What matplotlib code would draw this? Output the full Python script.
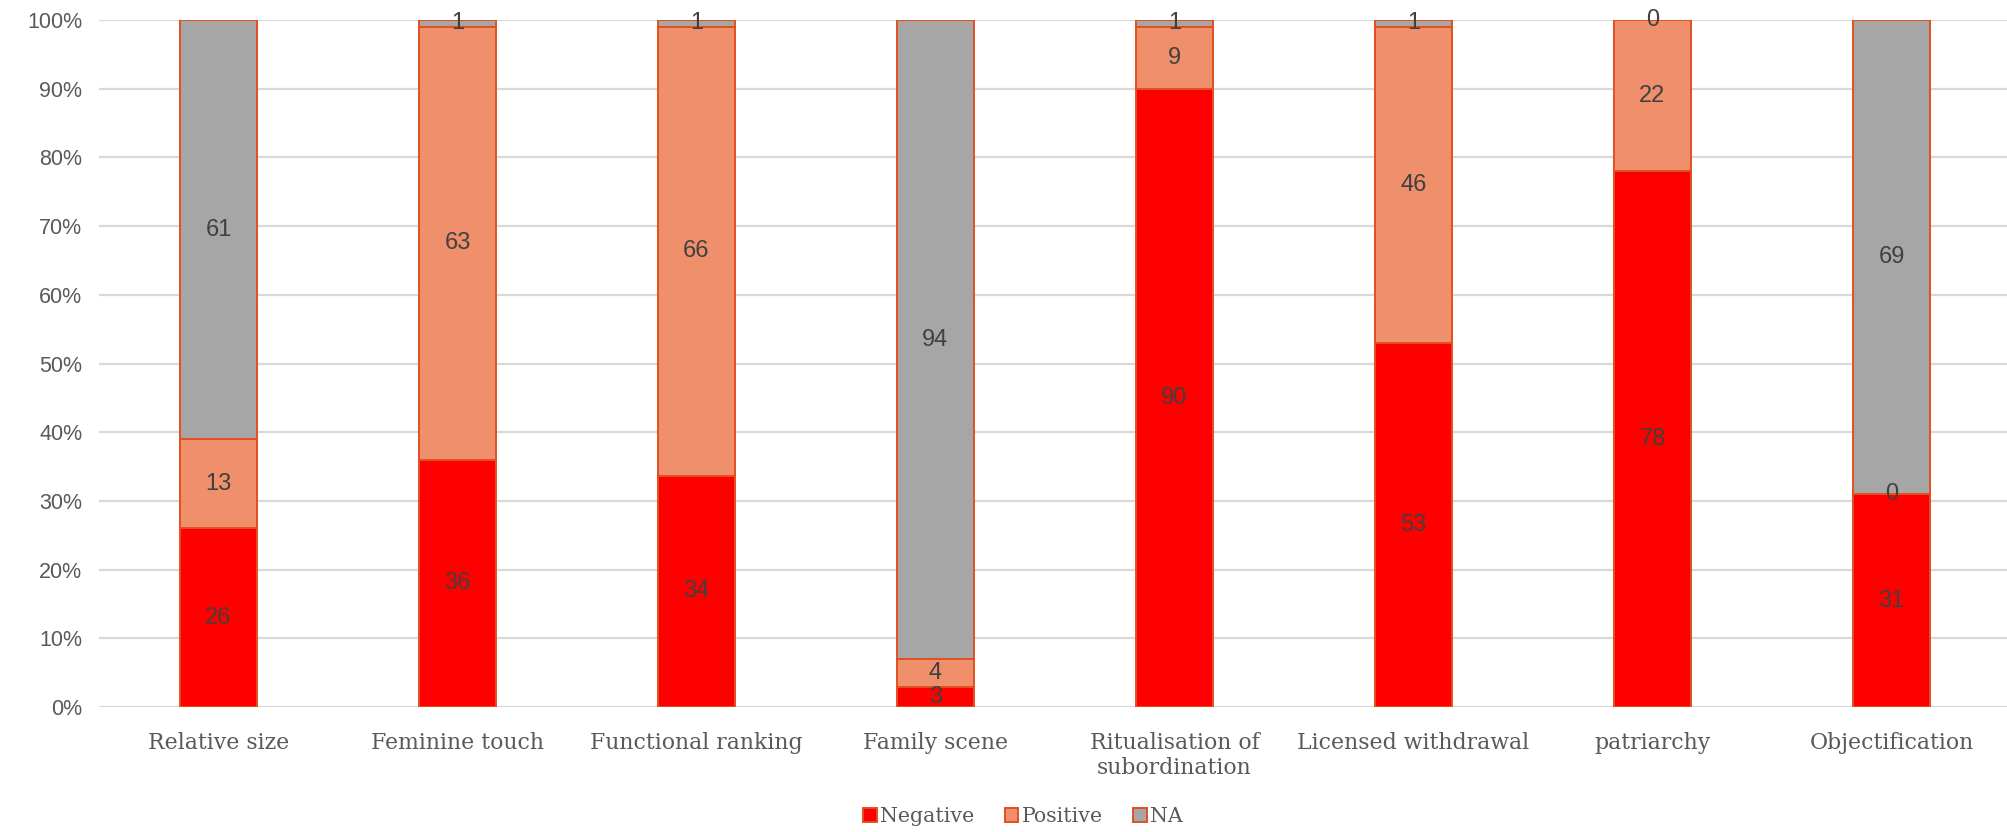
import matplotlib
matplotlib.use("Agg")
import matplotlib.pyplot as plt
import numpy as np
from matplotlib.patches import Patch
from matplotlib.ticker import PercentFormatter

categories = ["Relative size", "Feminine touch", "Functional ranking", "Family scene",
              "Ritualisation of\nsubordination", "Licensed withdrawal", "patriarchy",
              "Objectification"]
negative = [26, 36, 34, 3, 90, 53, 78, 31]
positive = [13, 63, 66, 4, 9, 46, 22, 0]
na = [61, 1, 1, 94, 1, 1, 0, 69]

series = [("Negative", negative, "#FF0000"),
          ("Positive", positive, "#F08F6B"),
          ("NA", na, "#A6A6A6")]
edge = "#E2501F"
serif = "DejaVu Serif"
sans = "Liberation Sans"

fig = plt.figure(figsize=(20.08, 8.32), dpi=100)
ax = fig.add_axes([99 / 2008, 1 - 707 / 832, 1 - 99 / 2008, (707 - 20) / 832])

x = np.arange(len(categories))
totals = np.array(negative) + np.array(positive) + np.array(na)
bottom = np.zeros(len(categories))
for name, vals, color in series:
    share = np.array(vals) / totals * 100
    ax.bar(x, share, 0.318, bottom=bottom, color=color, edgecolor=edge,
           linewidth=1.4, label=name, zorder=3)
    # value labels sit in the middle of each segment
    for xi, b, h, v in zip(x, bottom, share, vals):
        ax.text(xi, b + h / 2, str(v), ha="center", va="center", fontsize=17,
                family=sans, color="#404040", zorder=4)
    bottom += share

ax.set_xlim(-0.5, -0.5 + 1909 / 239)
ax.set_ylim(0, 100)
ax.yaxis.set_major_locator(plt.MultipleLocator(10))
ax.yaxis.set_major_formatter(PercentFormatter(decimals=0))
ax.grid(axis="y", color="#D9D9D9", linewidth=1.6, zorder=0)
for s in ax.spines.values():
    s.set_visible(False)
ax.tick_params(length=0)
ax.tick_params(axis="y", labelsize=15.5, labelcolor="#595959", pad=12)
for lbl in ax.get_yticklabels():
    lbl.set_family(sans)
ax.set_xticks(x)
ax.set_xticklabels(categories, fontsize=15.8, color="#595959", family=serif,
                   linespacing=1.2)
ax.tick_params(axis="x", pad=18)

handles = [Patch(facecolor=c, edgecolor=edge, linewidth=1.4, label=n) for n, _, c in series]
fig.legend(handles=handles, loc="center", bbox_to_anchor=(1023 / 2008, 1 - 817 / 832),
           ncol=3, frameon=False, handlelength=0.65, handleheight=0.65, handletextpad=0.15,
           columnspacing=1.5, prop={"family": serif, "size": 14.8}, labelcolor="#595959")

fig.savefig("out.png", dpi=100)
